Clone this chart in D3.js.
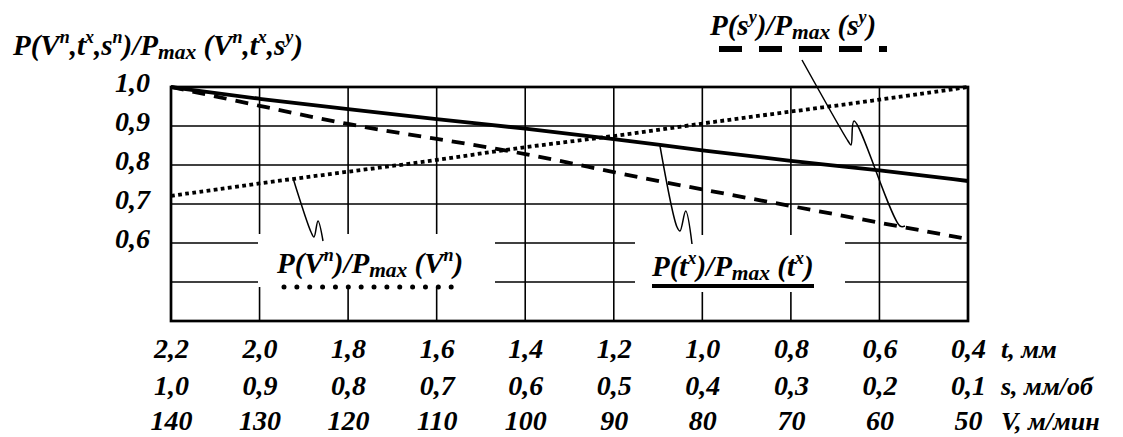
<!DOCTYPE html>
<html>
<head>
<meta charset="utf-8">
<script src="https://cdn.jsdelivr.net/npm/d3@7"></script>
<style>

html, body {
  margin: 0;
  padding: 0;
  background: #fff;
}

text {
  font-family: "Liberation Serif", "Times New Roman", serif;
  font-weight: bold;
  font-style: italic;
  fill: #000;
}

.grid line {
  stroke: #000;
  stroke-width: 1.6;
}

</style>
</head>
<body>
<script>

// values
var tTicks = [2.2, 2.0, 1.8, 1.6, 1.4, 1.2, 1.0, 0.8, 0.6, 0.4];
var sTicks = [1.0, 0.9, 0.8, 0.7, 0.6, 0.5, 0.4, 0.3, 0.2, 0.1];
var vTicks = [140, 130, 120, 110, 100, 90, 80, 70, 60, 50];
var yTicks = [1.0, 0.9, 0.8, 0.7, 0.6];
var yGrid = [0.9, 0.8, 0.7, 0.6, 0.5];

// P/Pmax at each tick of its own axis
var ratioT = [1.0, 0.969, 0.943, 0.917, 0.894, 0.867, 0.837, 0.81, 0.787, 0.759];
var ratioS = [1.0, 0.952, 0.903, 0.867, 0.83, 0.781, 0.737, 0.695, 0.652, 0.61];
var ratioV = [0.721, 0.753, 0.783, 0.812, 0.847, 0.873, 0.907, 0.937, 0.967, 1.0];

var axisNames = ['t, мм', 's, мм/об', 'V, м/мин'];

var w = 1123, h = 437;
var svg = d3.select('body').append('svg')
  .attr('width', w)
  .attr('height', h);

// plot box (note: "top" is reserved on window, so use other names)
var pL = 171, pR = 968, pT = 87, pB = 321;

var xT = d3.scaleLinear().domain([2.2, 0.4]).range([pL, pR]),
    xS = d3.scaleLinear().domain([1.0, 0.1]).range([pL, pR]),
    xV = d3.scaleLinear().domain([140, 50]).range([pL, pR]),
    y = d3.scaleLinear().domain([0.4, 1.0]).range([pB, pT]);

var comma = function(d){ return d.toFixed(1).replace('.', ','); };

// grid
var grid = svg.append('g').attr('class', 'grid');
grid.selectAll('line.v')
  .data(tTicks.slice(1, -1))
  .enter().append('line')
  .attr('x1', function(d){ return xT(d); })
  .attr('x2', function(d){ return xT(d); })
  .attr('y1', pT).attr('y2', pB);
grid.selectAll('line.h')
  .data(yGrid)
  .enter().append('line')
  .attr('x1', pL).attr('x2', pR)
  .attr('y1', function(d){ return y(d); })
  .attr('y2', function(d){ return y(d); });

// white gaps in the grid behind the two lower labels
var gaps = [[258, 234, 237, 53], [635, 235, 210, 57]];
svg.selectAll('rect.gap')
  .data(gaps)
  .enter().append('rect')
  .attr('x', function(d){ return d[0]; })
  .attr('y', function(d){ return d[1]; })
  .attr('width', function(d){ return d[2]; })
  .attr('height', function(d){ return d[3]; })
  .attr('fill', '#fff');

svg.append('rect')
  .attr('x', pL).attr('y', pT)
  .attr('width', pR - pL).attr('height', pB - pT)
  .attr('fill', 'none')
  .attr('stroke', '#000')
  .attr('stroke-width', 2.7);

// curves
var line = d3.line().curve(d3.curveBasis);

svg.append('path')
  .attr('d', line(tTicks.map(function(d, i){ return [xT(d), y(ratioT[i])]; })))
  .attr('fill', 'none').attr('stroke', '#000').attr('stroke-width', 3.8);

svg.append('path')
  .attr('d', line(sTicks.map(function(d, i){ return [xS(d), y(ratioS[i])]; })))
  .attr('fill', 'none').attr('stroke', '#000').attr('stroke-width', 3.8)
  .attr('stroke-dasharray', '13,9');

svg.append('path')
  .attr('d', line(vTicks.map(function(d, i){ return [xV(d), y(ratioV[i])]; })))
  .attr('fill', 'none').attr('stroke', '#000').attr('stroke-width', 3.8)
  .attr('stroke-dasharray', '3.8,3.4');

// leader lines with their little hook
var leaders = [
  [[293.6, 180], [311, 232], [314, 237], [318, 221], [323, 241]],
  [[660, 146], [677, 227], [680, 231], [685.7, 211], [692, 244]],
  [[802, 60], [848, 141], [851, 145], [854, 121], [900, 226], [905, 226]]
];
svg.selectAll('path.leader')
  .data(leaders)
  .enter().append('path')
  .attr('d', d3.line().curve(d3.curveCatmullRom.alpha(0.5)))
  .attr('fill', 'none')
  .attr('stroke', '#000')
  .attr('stroke-width', 1.5);

// rich text: [text, 'sup' | 'sub' | '']
function rich(x, yy, parts, size) {
  var t = svg.append('text').attr('x', x).attr('y', yy).style('font-size', size + 'px');
  var shift = 0;
  parts.forEach(function(p){
    var target = p[1] === 'sup' ? -0.42 * size : p[1] === 'sub' ? 0.14 * size : 0;
    var fs = p[1] === 'sup' ? 0.62 * size : p[1] === 'sub' ? 0.74 * size : size;
    t.append('tspan')
      .attr('dy', target - shift)
      .style('font-size', fs + 'px')
      .text(p[0]);
    shift = target;
  });
  return t;
}

rich(13, 55, [['P(V',''],['n','sup'],[',t',''],['x','sup'],[',s',''],['n','sup'],[')/P',''],['max','sub'],[' (V',''],['n','sup'],[',t',''],['x','sup'],[',s',''],['y','sup'],[')','']], 29);
rich(710, 35, [['P(s',''],['y','sup'],[')/P',''],['max','sub'],[' (s',''],['y','sup'],[')','']], 29);
rich(277, 273, [['P(V',''],['n','sup'],[')/P',''],['max','sub'],[' (V',''],['n','sup'],[')','']], 29);
rich(652, 276, [['P(t',''],['x','sup'],[')/P',''],['max','sub'],[' (t',''],['x','sup'],[')','']], 29);

// legend keys under the labels
svg.append('line').attr('x1', 719).attr('x2', 887).attr('y1', 49).attr('y2', 49)
  .attr('stroke', '#000').attr('stroke-width', 6).attr('stroke-dasharray', '23,17');
svg.append('line').attr('x1', 284).attr('x2', 464).attr('y1', 287).attr('y2', 287)
  .attr('stroke', '#000').attr('stroke-width', 5).attr('stroke-linecap', 'round')
  .attr('stroke-dasharray', '0.01,12.85');
svg.append('line').attr('x1', 652).attr('x2', 814).attr('y1', 286).attr('y2', 286)
  .attr('stroke', '#000').attr('stroke-width', 4);

// y axis
var yAxis = svg.append('g')
  .attr('transform', 'translate(150,-4)')
  .call(d3.axisLeft(y).tickValues(yTicks).tickFormat(comma).tickSize(0).tickPadding(0));
yAxis.select('.domain').remove();
yAxis.selectAll('text').style('font-size', '28px').attr('fill', '#000');

// three bottom scales
var rows = [
  {scale: xT, ticks: tTicks, fmt: comma, y0: 338},
  {scale: xS, ticks: sTicks, fmt: comma, y0: 375},
  {scale: xV, ticks: vTicks, fmt: d3.format('d'), y0: 410}
];
rows.forEach(function(r, i){
  var g = svg.append('g')
    .attr('transform', 'translate(0,' + r.y0 + ')')
    .call(d3.axisBottom(r.scale).tickValues(r.ticks).tickFormat(r.fmt).tickSize(0).tickPadding(0));
  g.select('.domain').remove();
  g.selectAll('text').style('font-size', '28px').attr('fill', '#000');
  svg.append('text')
    .attr('x', 1001)
    .attr('y', r.y0 + 20)
    .style('font-size', '26px')
    .text(axisNames[i]);
});

</script>
</body>
</html>
